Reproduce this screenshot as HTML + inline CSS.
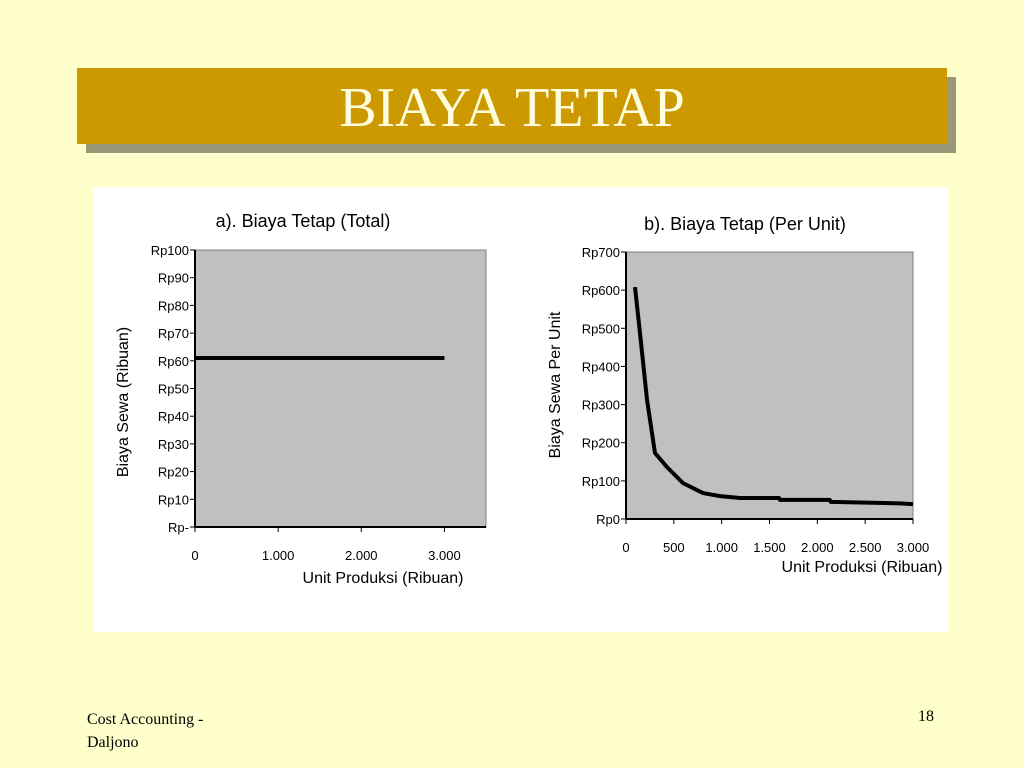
<!DOCTYPE html>
<html><head><meta charset="utf-8"><style>
body{margin:0;width:1024px;height:768px;background:#FFFFCC;position:relative;overflow:hidden;font-family:"Liberation Sans",sans-serif}
#shadow{position:absolute;left:86px;top:77px;width:870px;height:76px;background:#999977}
#bar{position:absolute;left:77px;top:68px;width:870px;height:76px;background:#CC9900;color:#FFFFE0;font-family:"Liberation Serif",serif;font-size:56px;text-align:center;line-height:80px}
#panel{position:absolute;left:93px;top:187px;width:855px;height:445px;background:#fff}
.foot{position:absolute;font-family:"Liberation Serif",serif;font-size:16px;color:#000}
svg text{font-family:"Liberation Sans",sans-serif;fill:#000}
</style></head><body>
<div id="shadow"></div>
<div id="bar">BIAYA TETAP</div>
<div id="panel"></div>
<svg id="chart" width="1024" height="768" style="position:absolute;left:0;top:0"></svg>
<div class="foot" style="left:87px;top:708px;line-height:23px">Cost Accounting -<br>Daljono</div>
<div class="foot" style="left:918px;top:708px">18</div>
<script>
const aXTicks=[0,1000,2000,3000];
const aXLabels=["0","1.000","2.000","3.000"];
const aYTicks=[0,10,20,30,40,50,60,70,80,90,100];
const aYLabels=["Rp-","Rp10","Rp20","Rp30","Rp40","Rp50","Rp60","Rp70","Rp80","Rp90","Rp100"];
const aLineX=[0,3000];
const aLineY=[61,61];
const bXTicks=[0,500,1000,1500,2000,2500,3000];
const bXLabels=["0","500","1.000","1.500","2.000","2.500","3.000"];
const bYTicks=[0,100,200,300,400,500,600,700];
const bYLabels=["Rp0","Rp100","Rp200","Rp300","Rp400","Rp500","Rp600","Rp700"];
const bCurveX=[94,146,220,303,429,596,805,983,1192,1600,1610,2130,2140,2860,3000];
const bCurveY=[608,488,312,173,136,94,68,60,55,55,50,50,45,41,39];

const NS="http://www.w3.org/2000/svg";
const svg=document.getElementById('chart');
function mk(tag,attrs,parent){const e=document.createElementNS(NS,tag);for(const k in attrs)e.setAttribute(k,attrs[k]);(parent||svg).appendChild(e);return e;}
function txt(x,y,s,size,anchor,name,rot){const t=mk('text',{x:x,y:y,'font-size':size,'text-anchor':anchor});t.textContent=s;


if(rot)t.setAttribute('transform','rotate(-90 '+x+' '+y+')');return t;}

function chart(o){
 const sx=v=>o.x0+(v-o.xmin)/(o.xmax-o.xmin)*(o.x1-o.x0);
 const sy=v=>o.y0-(v-o.ymin)/(o.ymax-o.ymin)*(o.y0-o.y1);
 const r=mk('rect',{x:o.x0,y:o.y1,width:o.x1-o.x0,height:o.y0-o.y1,fill:'#C0C0C0',stroke:'#808080','stroke-width':1});
 
 
 mk('line',{x1:o.x0,y1:o.y1,x2:o.x0,y2:o.y0,stroke:'#000','stroke-width':2});
 mk('line',{x1:o.x0,y1:o.y0,x2:o.x1,y2:o.y0,stroke:'#000','stroke-width':2});
 o.yt.forEach((v,i)=>{const y=sy(v);mk('line',{x1:o.x0-5,y1:y,x2:o.x0,y2:y,stroke:'#000','stroke-width':1});
  txt(o.x0-6,y+5,o.yl[i],13,'end','y-tick-label');});
 o.xt.forEach((v,i)=>{const x=sx(v);mk('line',{x1:x,y1:o.y0,x2:x,y2:o.y0+5,stroke:'#000','stroke-width':1});
  txt(x,o.y0+33,o.xl[i],13,'middle','x-tick-label');});
 const p=mk('polyline',{points:o.lx.map((v,i)=>sx(v)+','+sy(o.ly[i])).join(' '),fill:'none',stroke:'#000','stroke-width':4,'stroke-linejoin':'round'});
 
 
 txt(o.tx,o.ty,o.title,18,'middle','chart-title');
 txt(o.xtx,o.xty,'Unit Produksi (Ribuan)',16,'middle','x-axis-title');
 txt(o.ytx,o.yty,o.ytitle,16,'middle','y-axis-title',true);
}
chart({id:'total',x0:195,x1:486,y0:527,y1:250,xmin:0,xmax:3500,ymin:0,ymax:100,xt:aXTicks,xl:aXLabels,yt:aYTicks,yl:aYLabels,lx:aLineX,ly:aLineY,
 title:'a).  Biaya Tetap (Total)',tx:303,ty:227,xtx:383,xty:583,ytitle:'Biaya Sewa (Ribuan)',ytx:128,yty:402});
chart({id:'per-unit',x0:626,x1:913,y0:519,y1:252,xmin:0,xmax:3000,ymin:0,ymax:700,xt:bXTicks,xl:bXLabels,yt:bYTicks,yl:bYLabels,lx:bCurveX,ly:bCurveY,
 title:'b).  Biaya Tetap (Per Unit)',tx:745,ty:230,xtx:862,xty:572,ytitle:'Biaya Sewa Per Unit',ytx:560,yty:385});
</script>
</body></html>
